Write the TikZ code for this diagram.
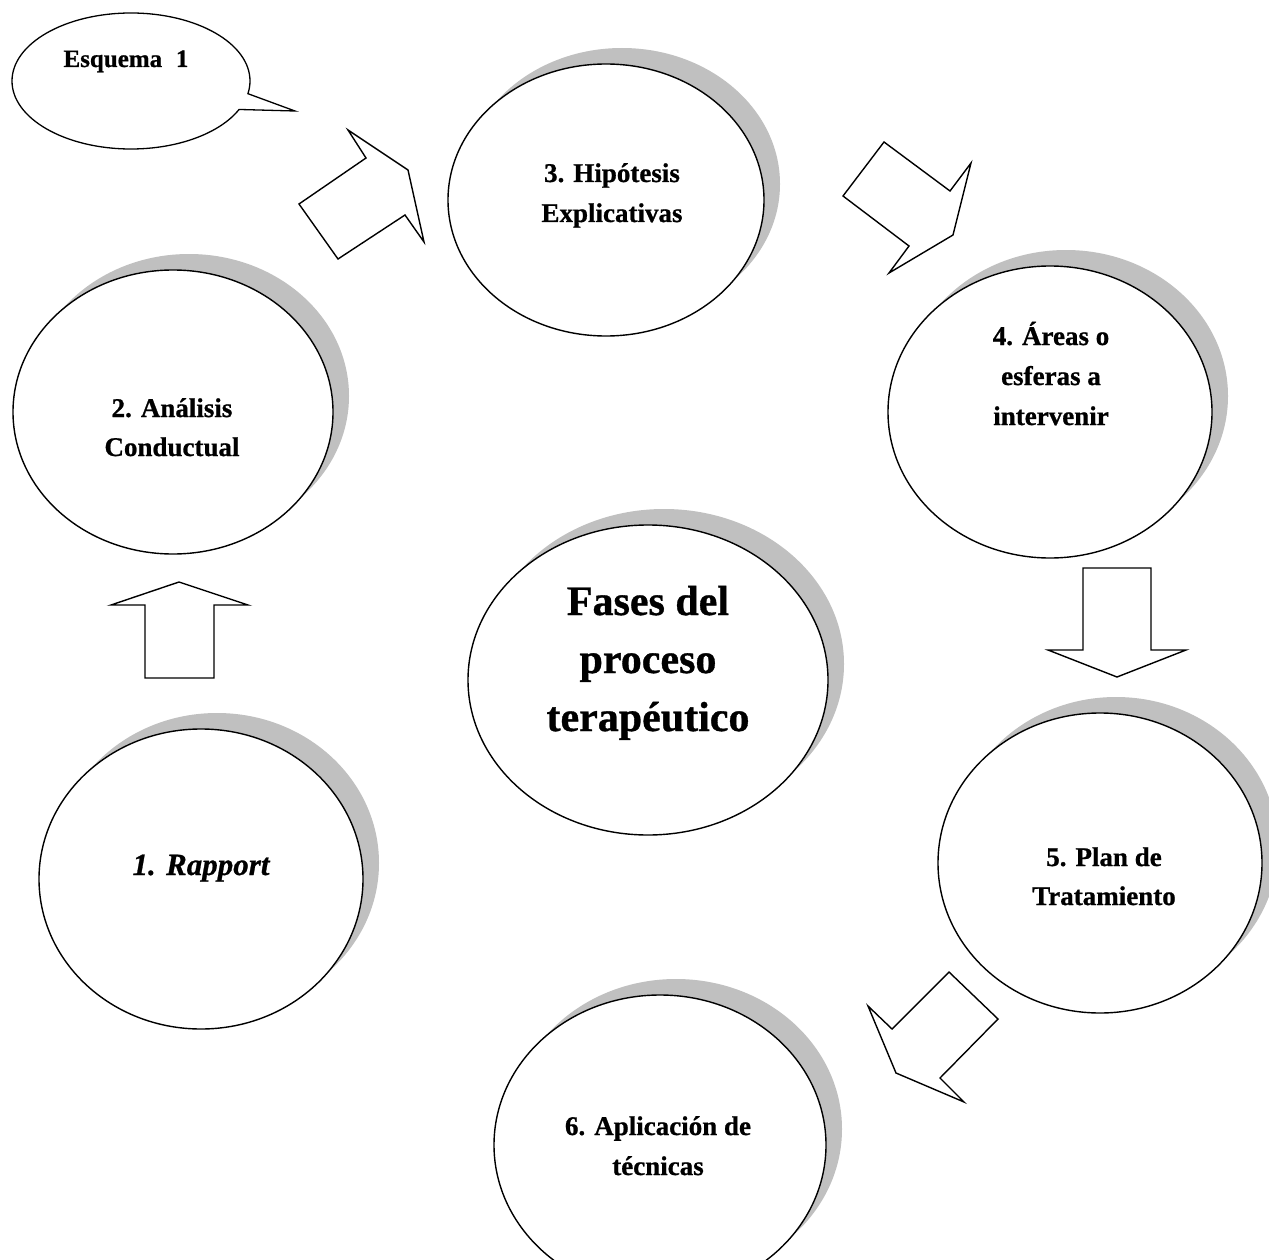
\documentclass[tikz,border=0pt]{standalone}
\usepackage{fontspec}
\setmainfont{Liberation Serif}[BoldFeatures={FakeBold=0.8},BoldItalicFeatures={FakeBold=0.8}]
\usetikzlibrary{shapes.geometric,shapes.callouts,shadows}
\definecolor{shadowgray}{HTML}{C0C0C0}
\begin{document}
\begin{tikzpicture}[x=1pt,y=-1pt,
  phase/.style={ellipse, draw=black, line width=1.4pt, fill=white, inner sep=0pt,
     drop shadow={shadow xshift=16pt, shadow yshift=16pt, fill=shadowgray, opacity=1}},
  lbl/.style={anchor=base, inner sep=0pt, font=\fontsize{27}{39}\selectfont\bfseries},
  biglbl/.style={anchor=base, inner sep=0pt, font=\fontsize{42}{58}\selectfont\bfseries},
  blockarrow/.style={draw=black, line width=1.4pt, fill=white, line join=miter},
  bubble/.style={ellipse callout, draw=black, line width=1.3pt, fill=white, inner sep=0pt}
]
\useasboundingbox (0,0) rectangle (1269,1260);
\fill[white] (0,0) rectangle (1269,1260);

% callout
\node[bubble, minimum width=238pt, minimum height=136pt,
      callout absolute pointer={(295,111)}, callout pointer arc=14] (callout) at (131,81) {};
\node[anchor=base, inner sep=0pt, font=\fontsize{25}{30}\selectfont\bfseries] (esq) at (126,67) {Esquema\hspace{0.55em}1};

% phase ellipses
\node[phase, minimum width=324pt, minimum height=300pt] (e1) at (201,879) {};
\node[phase, minimum width=320pt, minimum height=284pt] (e2) at (173,412) {};
\node[phase, minimum width=316pt, minimum height=272pt] (e3) at (606,200) {};
\node[phase, minimum width=324pt, minimum height=292pt] (e4) at (1050,412) {};
\node[phase, minimum width=324pt, minimum height=300pt] (e5) at (1100,863) {};
\node[phase, minimum width=332pt, minimum height=300pt] (e6) at (660,1145) {};
\node[phase, minimum width=360pt, minimum height=310pt] (ec) at (648,680) {};

% labels
\node[lbl] (t1) at (201,875) {\fontsize{31}{38}\selectfont\itshape 1. Rapport};
\node[lbl] (t2) at (172,417) {\begin{tabular}[t]{@{}c@{}}2. Análisis\\Conductual\end{tabular}};
\node[lbl] (t3) at (612,182) {\fontsize{27}{40}\selectfont\begin{tabular}[t]{@{}c@{}}3. Hipótesis\\Explicativas\end{tabular}};
\node[lbl] (t4) at (1051,345) {\fontsize{27}{40}\selectfont\begin{tabular}[t]{@{}c@{}}4. Áreas o\\esferas a\\intervenir\end{tabular}};
\node[lbl] (t5) at (1104,866) {\begin{tabular}[t]{@{}c@{}}5. Plan de\\Tratamiento\end{tabular}};
\node[lbl] (t6) at (658,1135) {\fontsize{27}{40}\selectfont\begin{tabular}[t]{@{}c@{}}6. Aplicación de\\técnicas\end{tabular}};
\node[biglbl] (tc) at (648,615) {\begin{tabular}[t]{@{}c@{}}Fases del\\proceso\\terapéutico\end{tabular}};

% block arrows
\draw[blockarrow] (179,582) -- (248,605) -- (214,605) -- (214,678) -- (145,678) -- (145,605) -- (111,605) -- cycle;
\draw[blockarrow] (348,130) -- (408,170) -- (424,242) -- (405,215) -- (338,259) -- (299,204) -- (366,158) -- cycle;
\draw[blockarrow] (884,142) -- (950,191) -- (971,163) -- (953,235) -- (889,273) -- (909,246) -- (843,196) -- cycle;
\draw[blockarrow] (1083,568) -- (1151,568) -- (1151,650) -- (1186,650) -- (1117,677) -- (1048,650) -- (1083,650) -- cycle;
\draw[blockarrow] (949,972) -- (998,1019) -- (940,1078) -- (964,1102) -- (896,1073) -- (868,1006) -- (892,1029) -- cycle;
\end{tikzpicture}
\end{document}
